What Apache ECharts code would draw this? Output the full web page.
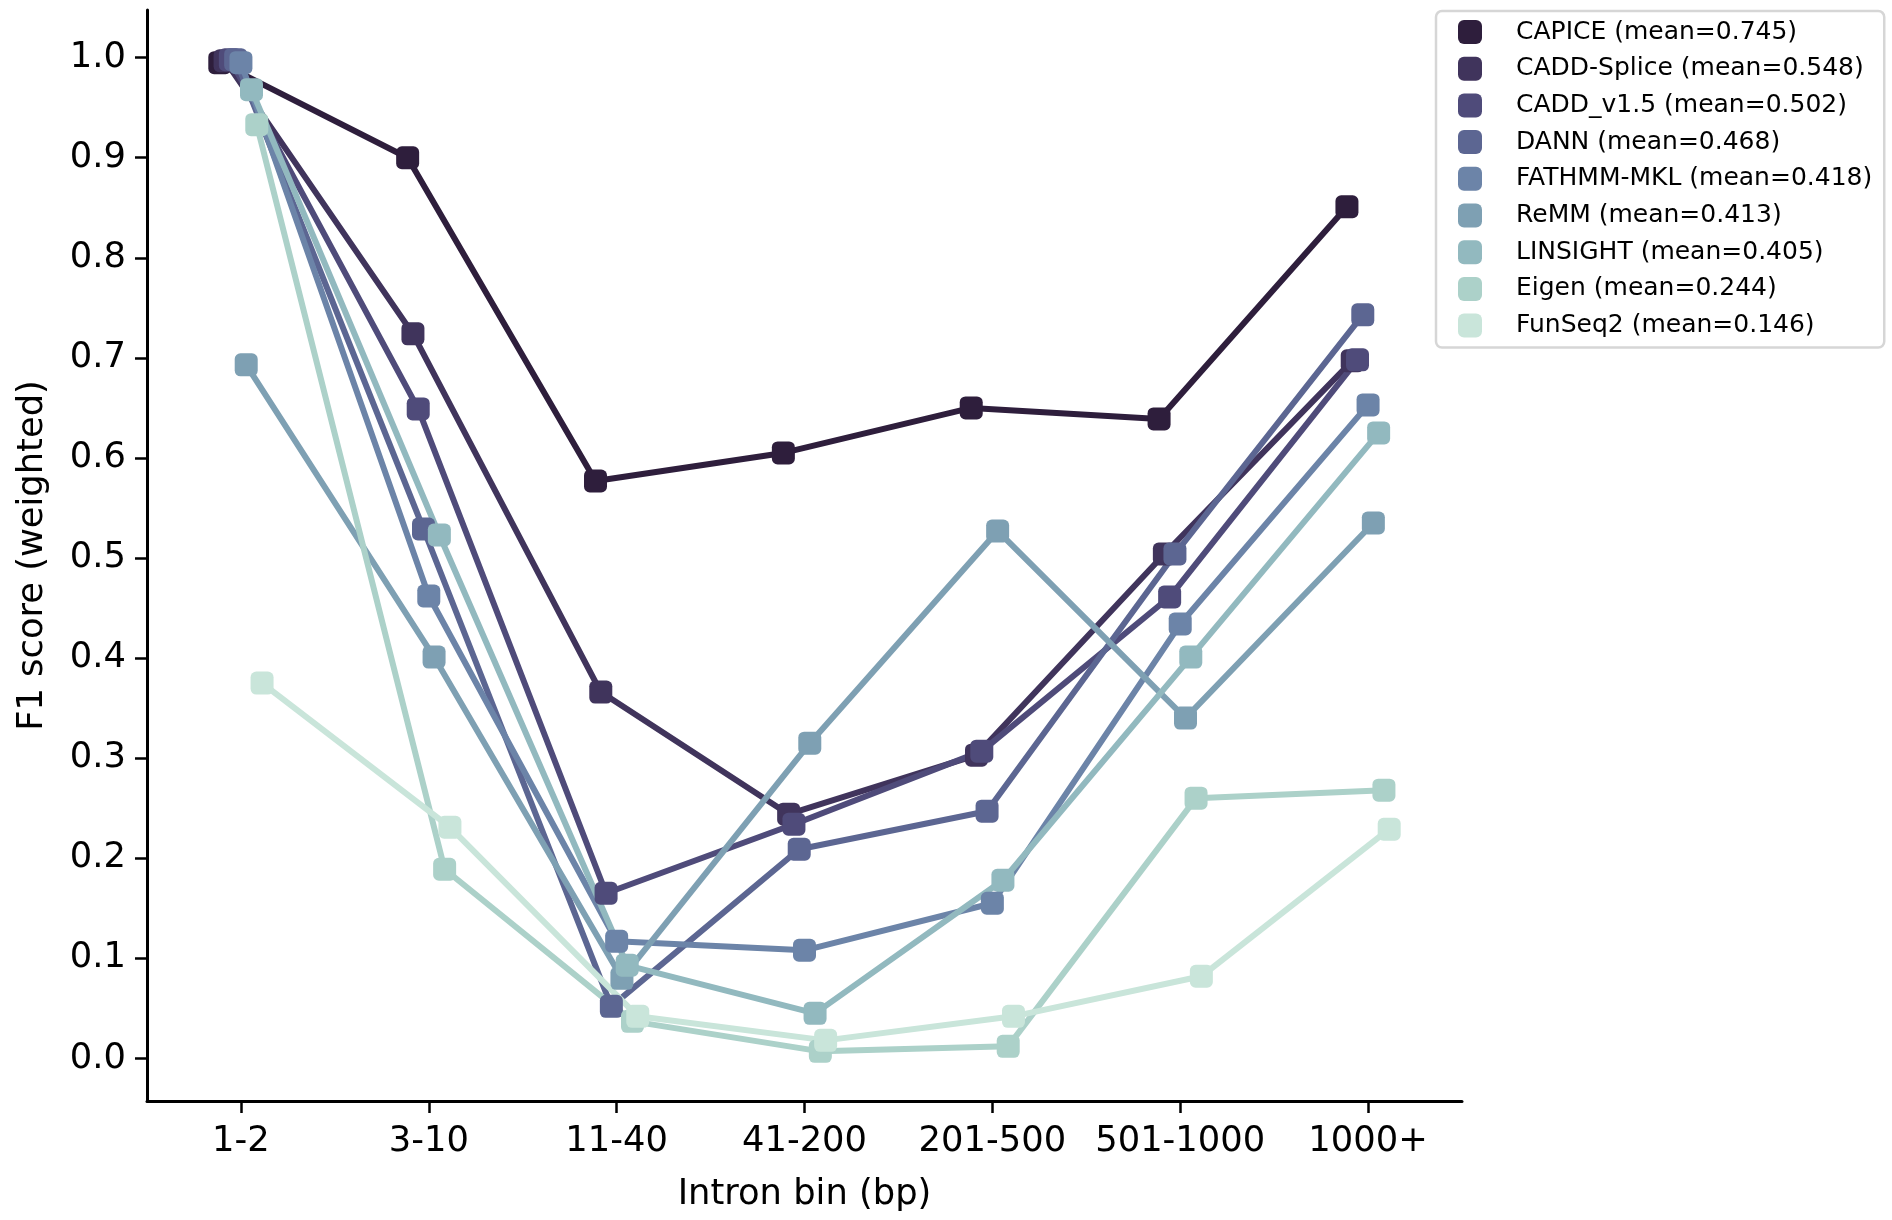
<!DOCTYPE html>
<html>
<head>
<meta charset="utf-8">
<title>F1 score by intron bin</title>
<script src="https://cdn.jsdelivr.net/npm/echarts@6.0.0/dist/echarts.min.js"></script>
<style>
    html, body { margin: 0; padding: 0; background: #ffffff; }
    #main-chart { width: 1892px; height: 1220px; }
</style>
</head>
<body>
<div id="main-chart"></div>
<script>
// intron bins on the x axis
const bins = ['1-2', '3-10', '11-40', '41-200', '201-500', '501-1000', '1000+'];
const yTicks = [0.0, 0.1, 0.2, 0.3, 0.4, 0.5, 0.6, 0.7, 0.8, 0.9, 1.0];

const toolNames = ['CAPICE', 'CADD-Splice', 'CADD_v1.5', 'DANN', 'FATHMM-MKL', 'ReMM', 'LINSIGHT', 'Eigen', 'FunSeq2'];
const toolMeans = [0.745, 0.548, 0.502, 0.468, 0.418, 0.413, 0.405, 0.244, 0.146];
const toolColors = ['#2e1e3c', '#40345c', '#4f4b7a', '#5c6692', '#6c84a8', '#7ea0b3', '#92b9bf', '#acd1c9', '#c9e5da'];

// F1 score (weighted) per bin
const capice     = [0.995, 0.900, 0.577, 0.605, 0.650, 0.639, 0.851];
const caddSplice = [0.997, 0.724, 0.366, 0.244, 0.303, 0.504, 0.697];
const caddV15    = [0.998, 0.649, 0.165, 0.234, 0.307, 0.461, 0.698];
const dann       = [0.998, 0.529, 0.052, 0.209, 0.247, 0.504, 0.743];
const fathmm     = [0.995, 0.462, 0.117, 0.108, 0.155, 0.434, 0.653];
const remm       = [0.693, 0.401, 0.080, 0.315, 0.527, 0.340, 0.535];
const linsight   = [0.968, 0.523, 0.093, 0.045, 0.178, 0.401, 0.625];
const eigen      = [0.933, 0.189, 0.037, 0.007, 0.012, 0.260, 0.268];
const funseq2    = [0.375, 0.231, 0.042, 0.018, 0.042, 0.082, 0.229];

const toolValues = [capice, caddSplice, caddV15, dann, fathmm, remm, linsight, eigen, funseq2];

document.addEventListener('DOMContentLoaded', () => {
    const myChart = echarts.init(document.getElementById('main-chart'), null, { renderer: 'canvas' });

    const font = 'DejaVu Sans';
    // points of each hue are spread a bit around the bin centre (seaborn dodge)
    const dodge = 0.025 * toolNames.length;
    const step = dodge / (toolNames.length - 1);

    const series = toolNames.map((name, s) => ({
        name: `${name} (mean=${toolMeans[s].toFixed(3)})`,
        type: 'line',
        data: toolValues[s].map((v, i) => [i - dodge / 2 + s * step, v]),
        symbol: 'roundRect',
        symbolSize: 23,
        showSymbol: true,
        lineStyle: { width: 6, color: toolColors[s] },
        itemStyle: { color: toolColors[s] },
        emphasis: { disabled: true },
        animation: false
    }));

    const option = {
        backgroundColor: '#ffffff',
        animation: false,
        grid: { left: 147, right: 430, top: 10, bottom: 119, containLabel: false },
        xAxis: {
            type: 'value',
            min: -0.5,
            max: bins.length - 0.5,
            name: 'Intron bin (bp)',
            nameLocation: 'middle',
            nameGap: 76,
            nameTextStyle: { fontFamily: font, fontSize: 35.3, color: '#000' },
            axisLine: { onZero: false, lineStyle: { color: '#000', width: 3 } },
            axisTick: { show: true, length: 12, lineStyle: { color: '#000', width: 2.5 }, customValues: bins.map((b, i) => i) },
            axisLabel: {
                fontFamily: font, fontSize: 35.3, color: '#000', margin: 23,
                customValues: bins.map((b, i) => i),
                formatter: v => bins[Math.round(v)]
            },
            splitLine: { show: false }
        },
        yAxis: {
            type: 'value',
            min: -0.0426,
            max: 1.0476,
            name: 'F1 score (weighted)',
            nameLocation: 'middle',
            nameGap: 97,
            nameRotate: 90,
            nameTextStyle: { fontFamily: font, fontSize: 35.3, color: '#000' },
            axisLine: { show: true, onZero: false, lineStyle: { color: '#000', width: 3 } },
            axisTick: { show: true, length: 12, lineStyle: { color: '#000', width: 2.5 }, customValues: yTicks },
            axisLabel: {
                fontFamily: font, fontSize: 35.3, color: '#000', margin: 21,
                customValues: yTicks,
                formatter: v => v.toFixed(1)
            },
            splitLine: { show: false }
        },
        legend: {
            orient: 'vertical',
            left: 1436,
            top: 11,
            icon: 'roundRect',
            itemWidth: 24,
            itemHeight: 24,
            itemGap: 6.7,
            padding: [6, 12, 7, 22],
            backgroundColor: 'rgba(255,255,255,0.8)',
            borderColor: '#d6d6d6',
            borderWidth: 2.5,
            borderRadius: 6,
            selectedMode: false,
            textStyle: { fontFamily: font, fontSize: 25, color: '#000', lineHeight: 30, padding: [0, 0, 0, 29] },
            data: series.map(s => s.name)
        },
        series: series
    };

    myChart.setOption(option);
});
</script>
</body>
</html>
